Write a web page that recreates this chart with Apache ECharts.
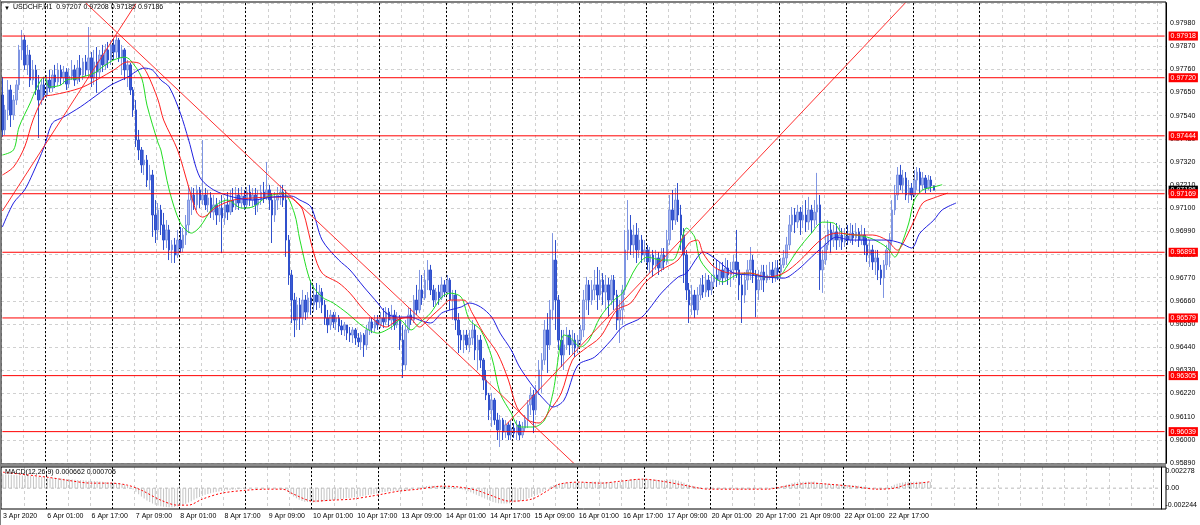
<!DOCTYPE html>
<html><head><meta charset="utf-8">
<script src="https://cdn.jsdelivr.net/npm/echarts@6/dist/echarts.min.js"></script>
<style>html,body{margin:0;padding:0;background:#fff;}#c{width:1200px;height:525px;}</style>
</head><body><div id="c"></div><script>
// ---- text ----
const symbolTitle = 'USDCHF,H1  0.97207 0.97208 0.97185 0.97186';
const macdTitle = 'MACD(12,26,9) 0.000662 0.000705';
const timeLabels = ['3 Apr 2020','6 Apr 01:00','6 Apr 17:00','7 Apr 09:00','8 Apr 01:00','8 Apr 17:00','9 Apr 09:00','10 Apr 01:00','10 Apr 17:00','13 Apr 09:00','14 Apr 01:00','14 Apr 17:00','15 Apr 09:00','16 Apr 01:00','16 Apr 17:00','17 Apr 09:00','20 Apr 01:00','20 Apr 17:00','21 Apr 09:00','22 Apr 01:00','22 Apr 17:00'];
const slotCount = 419; // hourly slots shown (data + right margin)
// ---- prices, in 0.00001 above 0.90000 ----
const opens = [7638,7472,7567,7662,7543,7614,7686,7852,7899,7781,7828,7709,7757,7662,7614,7686,7638,7709,7671,7733,7700,7757,7719,7747,7690,7728,7757,7709,7766,7733,7795,7757,7814,7719,7795,7747,7828,7781,7852,7804,7876,7842,7899,7814,7852,7757,7781,7662,7567,7424,7377,7306,7329,7234,7258,7068,6997,7092,7021,6949,6997,6902,6926,6878,6949,6911,6973,7021,7139,7163,7116,7187,7139,7163,7116,7149,7082,7116,7068,7101,7054,7116,7082,7139,7106,7163,7125,7158,7116,7177,7139,7163,7116,7139,7177,7149,7187,7139,7068,7139,7163,7177,7139,6949,6783,6664,6569,6641,6579,6664,6607,6674,6641,6688,6655,6702,6641,6579,6546,6593,6560,6579,6541,6522,6546,6507,6498,6522,6484,6465,6498,6451,6522,6560,6531,6569,6546,6579,6560,6607,6569,6593,6546,6579,6474,6356,6522,6593,6569,6664,6617,6712,6674,6759,6807,6712,6664,6702,6674,6736,6702,6759,6664,6688,6569,6498,6474,6498,6451,6484,6522,6427,6474,6379,6284,6213,6142,6189,6094,6047,6094,6037,6071,6023,6056,6032,6071,6023,6056,6094,6166,6213,6142,6237,6332,6379,6522,6451,6617,6854,6664,6474,6403,6451,6498,6451,6474,6436,6474,6522,6664,6736,6664,6712,6736,6688,6759,6702,6736,6664,6759,6688,6569,6617,6712,6902,6997,6926,6973,6902,6949,6878,6902,6845,6878,6831,6864,6816,6878,6845,6949,7092,7044,7139,7068,6973,6878,6712,6641,6688,6617,6688,6736,6702,6759,6712,6750,6783,6759,6807,6769,6816,6783,6807,6845,6807,6736,6688,6759,6807,6854,6783,6712,6759,6797,6759,6783,6807,6774,6816,6797,6831,6864,6926,7021,7068,7035,7082,7044,7068,7035,7092,7044,7082,7116,6807,6854,6926,6997,6949,6987,6949,6973,6940,6968,6949,6982,6959,6987,6949,6973,6926,6878,6902,6845,6864,6807,6769,6831,6902,6949,7092,7163,7258,7211,7244,7163,7196,7163,7234,7272,7211,7244,7196,7234,7207];
const highs = [7724,7591,7709,7686,7638,7709,7876,7947,7923,7876,7852,7804,7781,7733,7709,7724,7733,7757,7757,7781,7790,7781,7776,7766,7766,7804,7781,7804,7828,7814,7828,7961,7842,7852,7866,7852,7876,7880,7890,7899,7909,7923,7909,7876,7861,7804,7790,7676,7614,7472,7391,7377,7353,7306,7282,7139,7125,7116,7078,7044,7021,6949,6959,6997,7011,7006,7068,7201,7201,7196,7211,7201,7424,7196,7187,7177,7163,7149,7139,7163,7149,7177,7187,7196,7201,7196,7201,7187,7201,7211,7196,7196,7187,7211,7225,7320,7211,7172,7177,7201,7211,7211,7187,6973,6807,6698,6679,6674,6712,6688,6702,6759,6736,6745,6736,6721,6664,6617,6617,6607,6607,6593,6569,6560,6546,6536,6536,6531,6507,6512,6507,6546,6583,6579,6593,6593,6607,6626,6631,6626,6641,6617,6607,6593,6546,6569,6631,6626,6688,6736,6807,6783,6807,6854,6831,6736,6721,6736,6774,6759,6783,6769,6712,6712,6602,6522,6522,6522,6522,6569,6546,6498,6498,6389,6332,6223,6223,6199,6128,6118,6104,6094,6085,6094,6080,6094,6089,6085,6118,6189,6251,6237,6261,6379,6412,6569,6602,6664,6982,6949,6688,6522,6522,6536,6522,6522,6507,6498,6546,6712,6774,6759,6759,6807,6821,6807,6792,6783,6769,6783,6783,6712,6664,6736,6997,7139,7068,7021,7030,7006,6973,6949,6926,6916,6902,6902,6892,6911,6911,6997,7163,7187,7196,7220,7116,7006,6902,6745,6736,6712,6726,6769,6783,6792,6783,6783,6831,6854,6845,6845,6864,6854,6845,6878,6997,6845,6783,6797,6854,6916,6878,6807,6807,6831,6831,6831,6845,6845,6854,6854,6864,6902,6964,7068,7106,7101,7116,7106,7116,7139,7154,7116,7139,7268,7163,6902,6973,7044,7035,7021,7030,7021,7006,7006,7021,7030,7021,7030,7006,7021,7006,6959,6949,6926,6902,6902,6831,6854,6926,6982,7139,7211,7296,7306,7282,7272,7234,7220,7282,7296,7291,7272,7258,7258,7253,7208];
const lows = [7439,7448,7519,7486,7519,7591,7662,7804,7757,7733,7676,7686,7638,7434,7591,7614,7624,7652,7652,7671,7681,7686,7690,7662,7671,7709,7681,7690,7700,7709,7728,7719,7676,7686,7648,7719,7747,7757,7766,7781,7804,7814,7795,7733,7709,7676,7638,7534,7391,7329,7268,7258,7201,7187,6964,6935,6949,6973,6902,6911,6854,6840,6840,6864,6887,6892,6926,6982,7068,7092,7092,7101,7116,7092,7082,7054,7044,7021,7035,6887,7021,7044,7068,7082,7092,7092,7101,7092,7101,7111,7106,7068,7082,7116,7125,7139,7092,6935,7035,7092,7116,7106,6869,6736,6555,6488,6522,6522,6546,6569,6579,6593,6607,6617,6626,6602,6546,6507,6522,6531,6522,6512,6498,6493,6474,6465,6460,6451,6441,6427,6394,6427,6498,6507,6512,6522,6531,6531,6546,6536,6522,6522,6531,6427,6294,6332,6507,6546,6555,6593,6602,6641,6664,6712,6688,6631,6641,6641,6664,6679,6688,6617,6569,6522,6412,6427,6412,6427,6417,6451,6379,6332,6341,6237,6189,6094,6061,6071,5999,5966,5999,6009,5999,5999,6009,5999,5999,6009,6037,6056,6118,6032,6118,6213,6223,6356,6318,6427,6569,6522,6427,6346,6332,6427,6403,6403,6394,6412,6451,6488,6617,6593,6641,6664,6617,6664,6641,6617,6583,6641,6617,6522,6460,6546,6688,6854,6878,6864,6840,6864,6840,6845,6807,6792,6774,6807,6783,6797,6807,6831,6926,6997,7021,7035,6902,6745,6664,6555,6593,6579,6593,6664,6674,6679,6679,6688,6726,6726,6736,6736,6750,6736,6726,6759,6769,6664,6555,6650,6712,6759,6745,6583,6664,6712,6702,6745,6759,6745,6750,6759,6769,6816,6831,6902,6987,6982,7006,6973,7006,6987,6997,6982,7006,7021,6712,6698,6831,6902,6887,6916,6902,6916,6902,6916,6926,6935,6926,6940,6916,6926,6878,6845,6821,6807,6783,6759,6736,6674,6807,6821,6926,7068,7139,7187,7172,7139,7125,7139,7154,7187,7172,7187,7172,7187,7177,7185];
const closes = [7472,7567,7662,7543,7614,7686,7852,7899,7781,7828,7709,7757,7662,7614,7686,7638,7709,7671,7733,7700,7757,7719,7747,7690,7728,7757,7709,7766,7733,7795,7757,7814,7719,7795,7747,7828,7781,7852,7804,7876,7842,7899,7814,7852,7757,7781,7662,7567,7424,7377,7306,7329,7234,7258,7068,6997,7092,7021,6949,6997,6902,6926,6878,6949,6911,6973,7021,7139,7163,7116,7187,7139,7163,7116,7149,7082,7116,7068,7101,7054,7116,7082,7139,7106,7163,7125,7158,7116,7177,7139,7163,7116,7139,7177,7149,7187,7139,7068,7139,7163,7177,7139,6949,6783,6664,6569,6641,6579,6664,6607,6674,6641,6688,6655,6702,6641,6579,6546,6593,6560,6579,6541,6522,6546,6507,6498,6522,6484,6465,6498,6451,6522,6560,6531,6569,6546,6579,6560,6607,6569,6593,6546,6579,6474,6356,6522,6593,6569,6664,6617,6712,6674,6759,6807,6712,6664,6702,6674,6736,6702,6759,6664,6688,6569,6498,6474,6498,6451,6484,6522,6427,6474,6379,6284,6213,6142,6189,6094,6047,6094,6037,6071,6023,6056,6032,6071,6023,6056,6094,6166,6213,6142,6237,6332,6379,6522,6451,6617,6854,6664,6474,6403,6451,6498,6451,6474,6436,6474,6522,6664,6736,6664,6712,6736,6688,6759,6702,6736,6664,6759,6688,6569,6617,6712,6902,6997,6926,6973,6902,6949,6878,6902,6845,6878,6831,6864,6816,6878,6845,6949,7092,7044,7139,7068,6973,6878,6712,6641,6688,6617,6688,6736,6702,6759,6712,6750,6783,6759,6807,6769,6816,6783,6807,6845,6807,6736,6688,6759,6807,6854,6783,6712,6759,6797,6759,6783,6807,6774,6816,6797,6831,6864,6926,7021,7068,7035,7082,7044,7068,7035,7092,7044,7082,7116,6807,6854,6926,6997,6949,6987,6949,6973,6940,6968,6949,6982,6959,6987,6949,6973,6926,6878,6902,6845,6864,6807,6769,6831,6902,6949,7092,7163,7258,7211,7244,7163,7196,7163,7234,7272,7211,7244,7196,7234,7207,7186];
// ---- Alligator lines: [slot, price units] ----
const lipsPts = [[0,7353],[4,7377],[6,7486],[10,7600],[12,7662],[15,7723],[17,7676],[21,7685],[23,7709],[27,7718],[33,7742],[36,7771],[40,7804],[44,7818],[46,7804],[50,7723],[52,7590],[56,7410],[57,7377],[60,7187],[64,7030],[68,6982],[71,7011],[76,7106],[81,7139],[86,7101],[90,7106],[95,7153],[101,7172],[105,7077],[107,6949],[111,6745],[115,6678],[119,6650],[124,6602],[130,6536],[135,6507],[140,6536],[143,6569],[147,6522],[150,6555],[154,6602],[158,6678],[161,6697],[165,6678],[168,6569],[172,6522],[176,6393],[179,6222],[183,6127],[186,6061],[191,6061],[195,6094],[198,6222],[202,6498],[204,6488],[208,6441],[211,6474],[215,6583],[220,6664],[223,6697],[228,6821],[232,6868],[237,6854],[241,6854],[244,6935],[246,7006],[249,6963],[251,6854],[256,6773],[259,6750],[264,6783],[269,6792],[274,6773],[279,6773],[282,6821],[286,6901],[291,6982],[295,7034],[299,7030],[302,6982],[307,6973],[312,6959],[317,6925],[319,6901],[321,6868],[323,6916],[326,7030],[328,7139],[331,7187],[335,7201],[338,7212]];
const teethPts = [[0,7258],[4,7296],[8,7391],[11,7519],[15,7628],[18,7638],[23,7652],[29,7676],[35,7718],[40,7756],[45,7795],[49,7790],[52,7742],[56,7614],[58,7519],[63,7377],[67,7201],[70,7077],[72,7058],[77,7106],[83,7139],[90,7149],[97,7153],[103,7153],[106,7125],[108,7092],[112,6887],[115,6792],[121,6745],[125,6697],[130,6617],[135,6555],[138,6536],[142,6569],[146,6583],[150,6536],[154,6583],[158,6631],[161,6664],[166,6664],[169,6602],[173,6507],[178,6412],[182,6284],[185,6156],[189,6094],[193,6080],[197,6142],[201,6222],[205,6379],[209,6427],[215,6488],[221,6617],[226,6650],[231,6745],[237,6807],[243,6854],[247,6935],[250,6949],[252,6887],[256,6821],[262,6792],[269,6792],[275,6773],[281,6792],[287,6854],[293,6935],[297,6973],[301,6982],[307,6973],[313,6973],[318,6949],[322,6901],[324,6935],[328,7044],[331,7125],[335,7149],[340,7172]];
const jawPts = [[0,7011],[4,7125],[8,7187],[11,7267],[15,7391],[18,7505],[22,7533],[28,7581],[34,7638],[39,7685],[45,7723],[51,7766],[54,7756],[57,7709],[60,7676],[64,7552],[67,7424],[71,7248],[76,7187],[83,7153],[90,7139],[97,7153],[104,7158],[107,7139],[111,7106],[115,6949],[121,6854],[125,6807],[130,6726],[135,6650],[138,6602],[142,6583],[147,6583],[150,6569],[154,6555],[158,6602],[161,6617],[165,6631],[168,6650],[172,6631],[176,6583],[179,6507],[183,6427],[186,6346],[191,6251],[195,6189],[198,6156],[202,6189],[207,6355],[213,6393],[219,6474],[223,6536],[230,6583],[237,6697],[243,6773],[246,6792],[250,6868],[252,6892],[257,6854],[263,6792],[269,6783],[275,6773],[281,6768],[286,6807],[291,6868],[295,6916],[300,6963],[305,6949],[311,6949],[318,6949],[323,6935],[327,6911],[330,6982],[335,7044],[338,7092],[343,7125]];
// ---- horizontal levels, bid line and trend lines ----
const levels = [0.97918,0.97720,0.97444,0.97169,0.96891,0.96579,0.96305,0.96039];
const bidPrice = 0.97186;
const trendA = [[0,7087],[48,8071]];
const trendB = [[30,8075],[207,5870]];
const trendC = [[181,6070],[325,8079]];
// ---- MACD, in 0.00001 ----
const macdMain = [150,148,146,144,142,140,138,136,134,132,130,128,126,124,122,120,118,116,113,110,107,104,100,97,94,92,90,88,86,84,82,80,78,76,74,72,70,66,62,60,58,56,52,45,35,22,5,-15,-40,-65,-90,-112,-132,-150,-165,-178,-188,-195,-200,-203,-205,-205,-203,-198,-190,-180,-168,-155,-140,-125,-110,-96,-84,-72,-62,-54,-47,-41,-36,-31,-27,-23,-20,-17,-14,-12,-10,-8,-6,-5,-4,-3,-2,-2,-1,0,0,-1,-2,-3,-5,-8,-20,-40,-65,-90,-110,-125,-137,-145,-150,-153,-154,-153,-150,-146,-142,-138,-134,-130,-126,-122,-118,-114,-110,-106,-102,-98,-94,-90,-86,-80,-74,-68,-62,-56,-50,-45,-41,-37,-33,-29,-26,-28,-35,-32,-25,-18,-10,-3,4,10,16,22,25,26,26,25,24,23,22,20,17,12,5,-3,-12,-22,-33,-45,-58,-70,-84,-98,-112,-126,-138,-148,-156,-162,-165,-166,-165,-162,-158,-152,-145,-137,-128,-118,-107,-96,-84,-70,-55,-38,-22,-5,20,35,45,50,54,57,59,60,60,60,60,62,64,66,67,68,68,68,68,67,66,65,64,62,62,66,74,82,88,92,95,97,98,98,97,96,94,92,90,88,86,86,90,92,92,88,80,70,58,46,36,26,18,12,6,2,-2,-4,-6,-8,-9,-10,-10,-10,-10,-9,-9,-10,-12,-13,-12,-11,-10,-10,-9,-7,-5,-3,-1,2,5,8,12,18,26,36,46,54,60,64,66,68,70,70,70,72,62,55,52,50,48,46,44,42,40,38,36,34,32,30,28,26,22,16,10,4,-2,-8,-14,-16,-12,-5,8,22,36,48,56,62,66,68,68,68,68,68,68,67,67,66];
const macdSignalPts = [[0,172],[16,118],[23,86],[32,54],[39,54],[45,32],[50,-22],[57,-129],[63,-183],[67,-183],[72,-118],[79,-54],[88,-22],[95,-11],[101,-11],[105,-65],[112,-140],[119,-129],[126,-118],[133,-86],[137,-65],[143,-32],[150,-11],[159,22],[165,11],[171,-22],[176,-75],[183,-140],[191,-118],[197,-22],[201,43],[208,65],[216,54],[223,75],[231,97],[238,75],[246,32],[255,-11],[264,-11],[276,-11],[283,22],[292,54],[298,43],[306,22],[316,-11],[322,0],[327,43],[331,54],[335,70]];
const macdAxisLabels = [0.002278, 0, -0.002244];

// ---- build ----
const P = v => +(0.9 + v / 1e5).toFixed(5);
const slots = Array.from({length: slotCount}, (_, i) => String(i));
const FONT = 'Liberation Sans';
const gridGray = {color: '#d0d0d0', width: 1, type: [3, 3]};
const sepLine = {color: '#000', width: 1, type: [2, 2]};
const isGrid = i => i % 8 === 0;
const isSep = i => i >= 16 && (i - 16) % 24 === 0 && i <= 352;
const baseX = (grid, showLabels, splitFn, splitStyle) => ({
  type: 'category', gridIndex: grid, data: slots, boundaryGap: true,
  axisLine: {show: false}, axisTick: {show: false},
  axisLabel: showLabels ? {
    show: true, interval: i => i % 16 === 0 && i / 16 < timeLabels.length,
    formatter: (v, idx) => timeLabels[idx / 16] || '', align: 'left',
    fontSize: 7, color: '#000', fontFamily: FONT, margin: 4
  } : {show: false},
  splitLine: {show: true, interval: splitFn, lineStyle: splitStyle}
});
const line = (pts, color, xi, yi, conv, extra) => Object.assign({
  type: 'line', xAxisIndex: xi, yAxisIndex: yi, symbol: 'none', smooth: 0.3,
  data: pts.map(([i, v]) => [i, conv(v)]), lineStyle: {color, width: 1},
  silent: true, z: 3
}, extra || {});
// a full-width horizontal price line with a price tag at the right axis
const hLine = (price, color, tagBg, z) => ({
  type: 'line', xAxisIndex: 0, yAxisIndex: 0, symbol: 'none', silent: true, z,
  data: [[0, price], [slotCount - 1, price]],
  lineStyle: {color, width: 1, type: 'solid'}, itemStyle: {color},
  endLabel: {show: true, formatter: () => price.toFixed(5), backgroundColor: tagBg, color: '#fff',
             fontSize: 7, fontFamily: FONT, padding: [1, 2, 1, 2], distance: 4}
});

const chart = echarts.init(document.getElementById('c'), null, {renderer: 'canvas'});
chart.setOption({
  animation: false,
  backgroundColor: '#fff',
  textStyle: {fontFamily: FONT},
  grid: [
    {left: 1, top: 3, width: 1165, height: 460},
    {left: 1, top: 467, width: 1165, height: 42}
  ],
  xAxis: [
    baseX(0, false, isGrid, gridGray),
    baseX(0, false, isSep, sepLine),
    baseX(1, true, isGrid, gridGray),
    baseX(1, false, isSep, sepLine)
  ],
  yAxis: [
    {type: 'value', gridIndex: 0, position: 'right', min: 0.9589, max: 0.98075, interval: 0.0011,
     axisLine: {show: true, lineStyle: {color: '#000'}}, axisTick: {show: false},
     axisLabel: {fontSize: 7, color: '#000', fontFamily: FONT, margin: 4, showMaxLabel: false,
                 formatter: v => v.toFixed(5)},
     splitLine: {show: true, lineStyle: gridGray}},
    {type: 'value', gridIndex: 1, position: 'right', min: -0.002244, max: 0.002278,
     axisLine: {show: true, lineStyle: {color: '#000'}}, axisTick: {show: false},
     axisLabel: {fontSize: 7, color: '#000', fontFamily: FONT, margin: 4, customValues: macdAxisLabels,
                 showMinLabel: true, showMaxLabel: true,
                 formatter: v => v === 0 ? '0.00' : (v > 0 ? '{t|' + v.toFixed(6) + '}' : '{b|' + v.toFixed(6) + '}'),
                 rich: {t: {fontSize: 7, padding: [9, 0, 0, 0]}, b: {fontSize: 7, padding: [0, 0, 7, 0]}}},
     splitLine: {show: false}}
  ],
  series: [
    {type: 'candlestick', xAxisIndex: 0, yAxisIndex: 0, barWidth: 2, silent: true,
     data: opens.map((o, i) => [P(o), P(closes[i]), P(lows[i]), P(highs[i])]),
     itemStyle: {color: '#a9b8ee', color0: '#3a5bd3', borderColor: '#7f95e2', borderColor0: '#3050cc', borderWidth: 1}},
    hLine(bidPrice, '#c0c0c0', '#000', 2),
    line(lipsPts, '#22dd22', 0, 0, P),
    line(teethPts, '#ff2020', 0, 0, P),
    line(jawPts, '#2020e0', 0, 0, P),
    line(trendA, '#ff3030', 0, 0, P, {smooth: false}),
    line(trendB, '#ff3030', 0, 0, P, {smooth: false}),
    line(trendC, '#ff3030', 0, 0, P, {smooth: false}),
    ...levels.map(l => hLine(l, '#ff0000', '#ff0000', 4)),
    {type: 'bar', xAxisIndex: 2, yAxisIndex: 1, barWidth: 1, silent: true,
     data: macdMain.map(v => v / 1e5), itemStyle: {color: '#c4c4c4'}},
    {type: 'line', xAxisIndex: 2, yAxisIndex: 1, symbol: 'none', silent: true, z: 2,
     data: [[0, 0], [slotCount - 1, 0]], lineStyle: {color: '#b8b8b8', width: 1, type: [3, 3]}},
    line(macdSignalPts, '#ff0000', 2, 1, v => v / 1e5, {lineStyle: {color: '#ff0000', width: 1, type: [2, 2]}})
  ],
  graphic: [
    {type: 'rect', shape: {x: 1, y: 2, width: 1165, height: 462}, style: {fill: 'none', stroke: '#000', lineWidth: 1}, z: 10, silent: true},
    {type: 'rect', shape: {x: 1, y: 463.5, width: 1165, height: 3}, style: {fill: '#8a8a8a'}, z: 10, silent: true},
    {type: 'rect', shape: {x: 1, y: 467, width: 1165, height: 42}, style: {fill: 'none', stroke: '#000', lineWidth: 1}, z: 10, silent: true},
    {type: 'rect', shape: {x: 0, y: 0, width: 1, height: 525}, style: {fill: '#808080'}, z: 10, silent: true},
    {type: 'text', left: 4, top: 5, z: 11, style: {text: '▼', fontSize: 6, fill: '#000', fontFamily: FONT}},
    {type: 'text', left: 13, top: 4, z: 11, style: {text: symbolTitle, fontSize: 7, fill: '#000', fontFamily: FONT}},
    {type: 'text', left: 5, top: 469, z: 11, style: {text: macdTitle, fontSize: 7, fill: '#000', fontFamily: FONT}}
  ]
});
</script></body></html>
